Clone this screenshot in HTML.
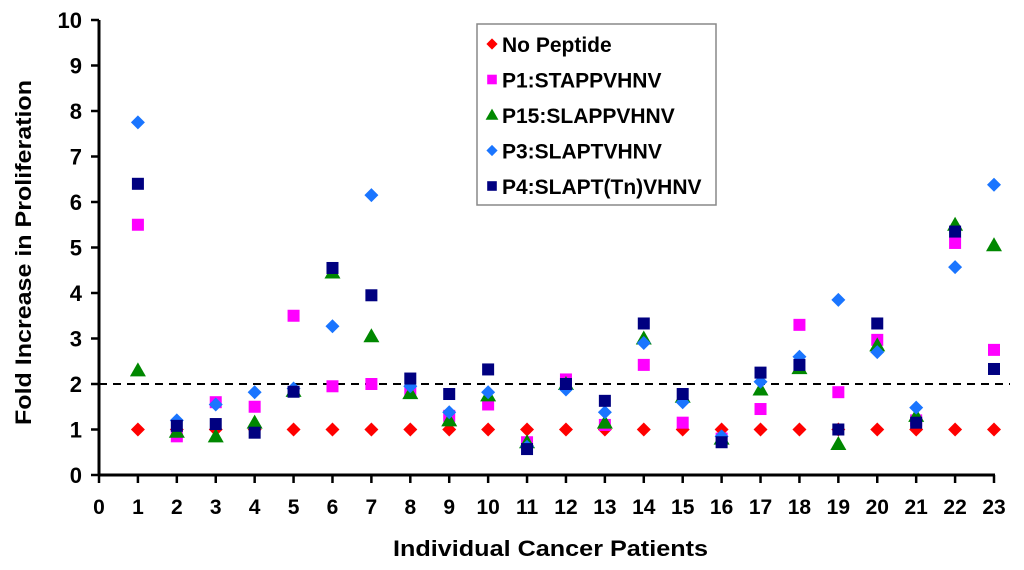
<!DOCTYPE html>
<html><head><meta charset="utf-8"><style>
html,body{margin:0;padding:0;background:#fff;}
svg{display:block;font-family:"Liberation Sans",sans-serif;font-weight:bold;}
</style></head><body>
<svg id="chart" width="1024" height="570" viewBox="0 0 1024 570">
<g id="axes"></g><g id="marks"></g>
<text x="393" y="556" textLength="315" lengthAdjust="spacingAndGlyphs" font-size="22">Individual Cancer Patients</text>
<text transform="translate(31,425) rotate(-90)" textLength="345" lengthAdjust="spacingAndGlyphs" font-size="22">Fold Increase in Proliferation</text>
<g id="legend">
<rect x="477" y="24" width="239" height="181" fill="#fff" stroke="#888" stroke-width="1.5"/>
</g>
</svg>
<script>
const patients=[1,2,3,4,5,6,7,8,9,10,11,12,13,14,15,16,17,18,19,20,21,22,23];
const noPeptide=[1,1,1,1,1,1,1,1,1,1,1,1,1,1,1,1,1,1,1,1,1,1,1];
const p1=[5.5,0.85,1.6,1.5,3.5,1.95,2.0,1.85,1.3,1.55,0.72,2.1,1.1,2.42,1.15,0.8,1.45,3.3,1.82,2.97,1.2,5.1,2.75];
const p15=[2.3,0.95,0.85,1.15,1.85,4.45,3.05,1.8,1.2,1.75,0.72,2.0,1.15,3.0,1.72,0.8,1.88,2.35,0.68,2.85,1.3,5.5,5.05];
const p3=[7.75,1.2,1.55,1.82,1.9,3.27,6.15,1.95,1.38,1.82,0.62,1.88,1.38,2.9,1.6,0.85,2.05,2.6,3.85,2.7,1.48,4.57,6.38];
const p4=[6.4,1.08,1.12,0.93,1.83,4.55,3.95,2.12,1.78,2.32,0.57,2.0,1.63,3.33,1.78,0.72,2.25,2.42,1.0,3.33,1.15,5.35,2.33];
const yTicks=[0,1,2,3,4,5,6,7,8,9,10];
const xTicks=[0,1,2,3,4,5,6,7,8,9,10,11,12,13,14,15,16,17,18,19,20,21,22,23];
const threshold=2;
const seriesNames=["No Peptide","P1:STAPPVHNV","P15:SLAPPVHNV","P3:SLAPTVHNV","P4:SLAPT(Tn)VHNV"];

const NS="http://www.w3.org/2000/svg";
const X0=99,X1=994,Y0=475,Y1=20;
const xs=v=>X0+(X1-X0)*v/23;
const ys=v=>Y0-(Y0-Y1)*v/10;
function mk(tag,attrs,parent){const e=document.createElementNS(NS,tag);for(const k in attrs)e.setAttribute(k,attrs[k]);parent.appendChild(e);return e;}
const axes=document.getElementById('axes'),marks=document.getElementById('marks'),legend=document.getElementById('legend');
let e=mk('line',{x1:X0,y1:Y1,x2:X0,y2:Y0,stroke:'#000','stroke-width':3},axes);


e=mk('line',{x1:X0-1,y1:Y0,x2:xs(23)+1,y2:Y0,stroke:'#000','stroke-width':3},axes);


yTicks.forEach(t=>{
  mk('line',{x1:X0-8,y1:ys(t),x2:X0,y2:ys(t),stroke:'#000','stroke-width':2.5},axes);
  const tx=mk('text',{x:82,y:ys(t)+8,'text-anchor':'end','font-size':22},axes);tx.textContent=t;
  
  
});
xTicks.forEach(t=>{
  mk('line',{x1:xs(t),y1:Y0,x2:xs(t),y2:Y0+8,stroke:'#000','stroke-width':2.5},axes);
  const tx=mk('text',{x:xs(t),y:514,'text-anchor':'middle','font-size':21},axes);tx.textContent=t;
  
  
});
e=mk('line',{x1:X0,y1:ys(threshold),x2:1010,y2:ys(threshold),stroke:'#000','stroke-width':2,'stroke-dasharray':'8,6'},axes);



const defs=[
 {data:noPeptide,type:'diamond',color:'#f00',s:7},
 {data:p1,type:'square',color:'#f0f',s:6},
 {data:p15,type:'triangle',color:'#080',s:8},
 {data:p3,type:'diamond',color:'#1a75ff',s:7},
 {data:p4,type:'square',color:'#000080',s:6}
];
function draw(type,cx,cy,s,color,parent){
  if(type==='diamond')return mk('polygon',{points:`${cx},${cy-s} ${cx+s},${cy} ${cx},${cy+s} ${cx-s},${cy}`,fill:color},parent);
  if(type==='square')return mk('rect',{x:cx-s,y:cy-s,width:2*s,height:2*s,fill:color},parent);
  return mk('polygon',{points:`${cx},${cy-s} ${cx+s},${cy+s*0.75} ${cx-s},${cy+s*0.75}`,fill:color},parent);
}
defs.forEach((d,si)=>{
  d.data.forEach((v,i)=>{
    const m=draw(d.type,xs(patients[i]),ys(v),d.s,d.color,marks);
    
    
  });
  const ly=44+si*35.5;
  const lm=draw(d.type,492,ly,d.s*0.8,d.color,legend);
  
  
  const lt=mk('text',{x:502,y:ly+8,'font-size':21},legend);lt.textContent=seriesNames[si];
  
  
});
</script>
</body></html>
